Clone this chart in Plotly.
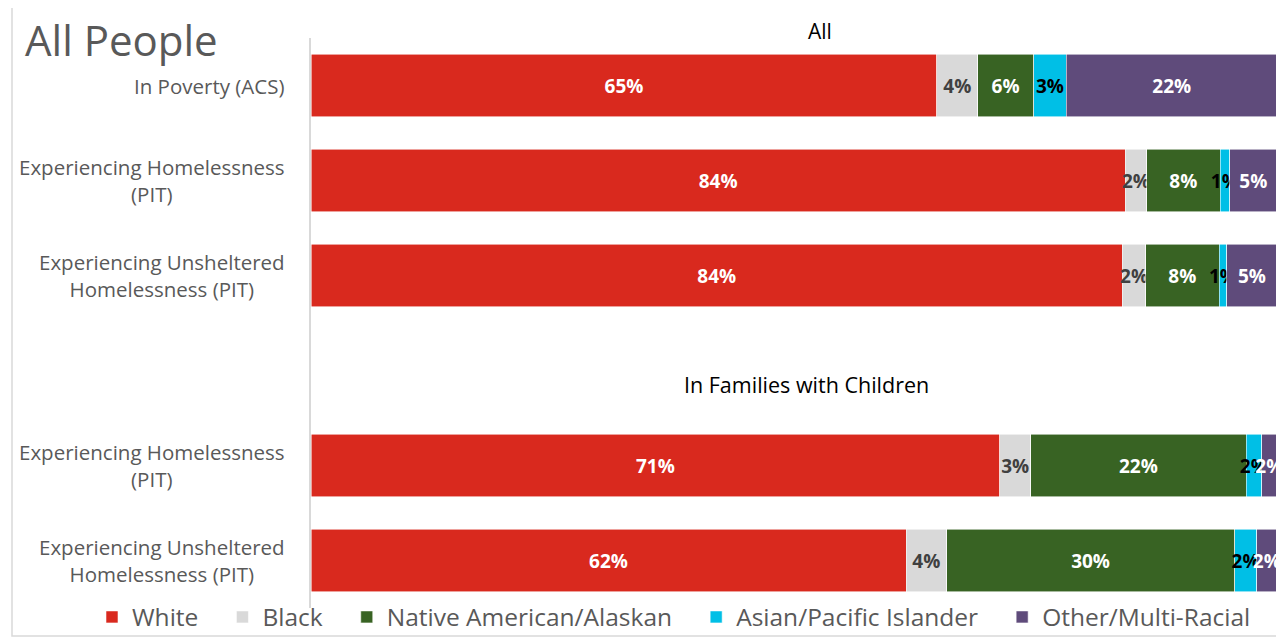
import plotly.graph_objects as go

# ---- data ----
groups = ["All", "All", "All", "In Families with Children", "In Families with Children"]
row_labels = [
    "In Poverty (ACS)",
    "Experiencing Homelessness<br>(PIT)",
    "Experiencing Unsheltered<br>Homelessness (PIT)",
    "Experiencing Homelessness<br>(PIT)",
    "Experiencing Unsheltered<br>Homelessness (PIT)",
]
series_names = ["White", "Black", "Native American/Alaskan", "Asian/Pacific Islander", "Other/Multi-Racial"]
white = [64.8, 84.3, 84.0, 71.3, 61.6]
black = [4.2, 2.2, 2.4, 3.2, 4.2]
native = [5.8, 7.6, 7.6, 22.3, 29.8]
asian = [3.4, 1.0, 0.8, 1.6, 2.3]
other = [21.8, 4.9, 5.2, 1.6, 2.1]
series_values = [white, black, native, asian, other]

colors = ["#D9291E", "#D9D9D9", "#386323", "#00BFE6", "#5F4B7B"]
text_colors = ["#FFFFFF", "#404040", "#FFFFFF", "#000000", "#FFFFFF"]

FONT = "Open Sans"
W, H = 1276, 630            # page has an 8px body margin
L, R, T, B = 303, 7, 30, 30
PW, PH = W - L - R, H - T - B

# row positions with a gap row between groups
positions = []
pos = 0
prev = None
for g in groups:
    if prev is not None and g != prev:
        pos += 1
    positions.append(pos)
    pos += 1
    prev = g
group_header_pos = {}
for g, p in zip(groups, positions):
    group_header_pos.setdefault(g, p - 1)

fig = go.Figure()
for name, vals, c, tc in zip(series_names, series_values, colors, text_colors):
    fig.add_trace(go.Bar(
        y=positions, x=vals, name=name + "\u00a0" * 3, orientation="h",
        marker=dict(color=c, line=dict(color="rgba(255,255,255,0.7)", width=0.8)),
        text=[f"{v:.0f}%" for v in vals],
        textposition="inside", insidetextanchor="middle", constraintext="none",
        textangle=0, cliponaxis=False,
        textfont=dict(family=FONT, size=19, color=tc, weight="bold"),
        hoverinfo="skip",
    ))

annotations = []
for lab, p in zip(row_labels, positions):
    annotations.append(dict(
        x=-24 / PW, xref="paper", y=p, yref="y", text=lab, showarrow=False,
        xanchor="right", yanchor="middle", align="center",
        font=dict(family=FONT, size=20.5, color="#595959"),
    ))
# group headers
annotations.append(dict(
    x=0.527, xref="paper", y=1 + 7 / PH, yref="paper", text="All", showarrow=False,
    xanchor="center", yanchor="middle", font=dict(family=FONT, size=21, color="#000000"),
))
annotations.append(dict(
    x=0.513, xref="paper", y=group_header_pos["In Families with Children"] + 0.15, yref="y",
    text="In Families with Children", showarrow=False,
    xanchor="center", yanchor="middle", font=dict(family=FONT, size=21.5, color="#000000"),
))

fig.update_layout(
    width=W, height=H,
    barmode="stack", bargap=0.34,
    paper_bgcolor="white", plot_bgcolor="white",
    margin=dict(l=L, r=R, t=T, b=B, autoexpand=False),
    title=dict(text="All People", x=17 / W, xanchor="left", xref="container",
               y=1 - 33 / H, yanchor="middle", yref="container",
               font=dict(family=FONT, size=42, color="#595959")),
    xaxis=dict(range=[0, 100], visible=False, fixedrange=True),
    yaxis=dict(range=[max(positions) + 0.5, -0.5], showticklabels=False, showgrid=False,
               zeroline=False, showline=True, linecolor="#D9D9D9", linewidth=1.5, ticks=""),
    showlegend=True,
    legend=dict(orientation="h", x=-(311 - 92) / PW, xanchor="left", y=-9 / PH, yanchor="middle",
                font=dict(family=FONT, size=24.5, color="#595959"), traceorder="normal",
                bgcolor="rgba(0,0,0,0)"),
    annotations=annotations,
    shapes=[
        dict(type="rect", xref="paper", yref="paper", x0=-(L - 4) / PW, x1=1 + 20 / PW,
             y0=-28 / PH, y1=1 + 37 / PH, fillcolor="rgba(0,0,0,0)",
             line=dict(color="#D9D9D9", width=1.5), layer="below"),
    ],
)

fig.write_html("out.html")
